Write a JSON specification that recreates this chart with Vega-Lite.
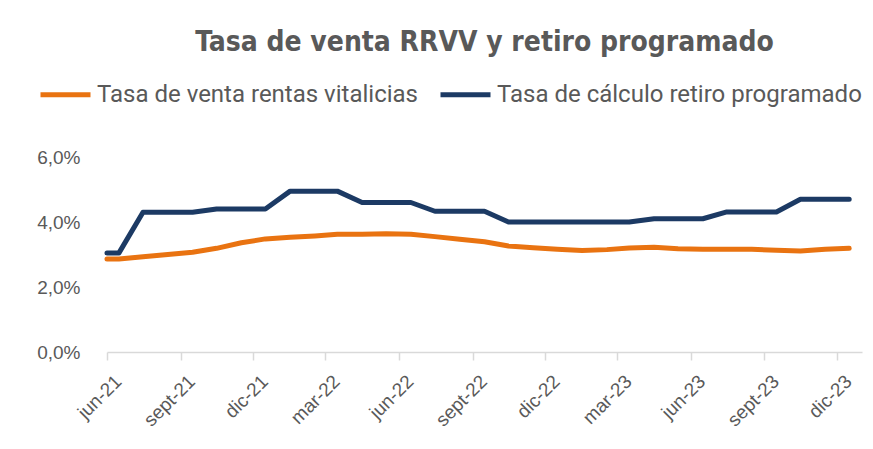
{
  "$schema": "https://vega.github.io/schema/vega-lite/v6.json",
  "width": 755,
  "height": 195,
  "autosize": {"type": "none"},
  "padding": {"left": 107, "top": 157, "right": 11, "bottom": 97},
  "background": "white",
  "title": {
    "text": "Tasa de venta RRVV y retiro programado",
    "font": "'DejaVu Sans Condensed', Roboto, sans-serif",
    "fontSize": 28,
    "fontWeight": "bold",
    "color": "#595959",
    "anchor": "middle",
    "offset": 10
  },
  "data": {
    "values": [
      {"fecha": "2021-06-01", "serie": "Tasa de venta rentas vitalicias", "tasa": 0.0286},
      {"fecha": "2021-06-16", "serie": "Tasa de venta rentas vitalicias", "tasa": 0.0286},
      {"fecha": "2021-07-16", "serie": "Tasa de venta rentas vitalicias", "tasa": 0.0293},
      {"fecha": "2021-08-16", "serie": "Tasa de venta rentas vitalicias", "tasa": 0.0300},
      {"fecha": "2021-09-16", "serie": "Tasa de venta rentas vitalicias", "tasa": 0.0307},
      {"fecha": "2021-10-16", "serie": "Tasa de venta rentas vitalicias", "tasa": 0.0319},
      {"fecha": "2021-11-16", "serie": "Tasa de venta rentas vitalicias", "tasa": 0.0336},
      {"fecha": "2021-12-16", "serie": "Tasa de venta rentas vitalicias", "tasa": 0.0348},
      {"fecha": "2022-01-16", "serie": "Tasa de venta rentas vitalicias", "tasa": 0.0353},
      {"fecha": "2022-02-16", "serie": "Tasa de venta rentas vitalicias", "tasa": 0.0357},
      {"fecha": "2022-03-16", "serie": "Tasa de venta rentas vitalicias", "tasa": 0.0362},
      {"fecha": "2022-04-16", "serie": "Tasa de venta rentas vitalicias", "tasa": 0.0362},
      {"fecha": "2022-05-16", "serie": "Tasa de venta rentas vitalicias", "tasa": 0.0364},
      {"fecha": "2022-06-16", "serie": "Tasa de venta rentas vitalicias", "tasa": 0.0362},
      {"fecha": "2022-07-16", "serie": "Tasa de venta rentas vitalicias", "tasa": 0.0355},
      {"fecha": "2022-08-16", "serie": "Tasa de venta rentas vitalicias", "tasa": 0.0347},
      {"fecha": "2022-09-16", "serie": "Tasa de venta rentas vitalicias", "tasa": 0.0339},
      {"fecha": "2022-10-16", "serie": "Tasa de venta rentas vitalicias", "tasa": 0.0326},
      {"fecha": "2022-11-16", "serie": "Tasa de venta rentas vitalicias", "tasa": 0.0321},
      {"fecha": "2022-12-16", "serie": "Tasa de venta rentas vitalicias", "tasa": 0.0316},
      {"fecha": "2023-01-16", "serie": "Tasa de venta rentas vitalicias", "tasa": 0.0312},
      {"fecha": "2023-02-16", "serie": "Tasa de venta rentas vitalicias", "tasa": 0.0315},
      {"fecha": "2023-03-16", "serie": "Tasa de venta rentas vitalicias", "tasa": 0.0320},
      {"fecha": "2023-04-16", "serie": "Tasa de venta rentas vitalicias", "tasa": 0.0322},
      {"fecha": "2023-05-16", "serie": "Tasa de venta rentas vitalicias", "tasa": 0.0318},
      {"fecha": "2023-06-16", "serie": "Tasa de venta rentas vitalicias", "tasa": 0.0316},
      {"fecha": "2023-07-16", "serie": "Tasa de venta rentas vitalicias", "tasa": 0.0316},
      {"fecha": "2023-08-16", "serie": "Tasa de venta rentas vitalicias", "tasa": 0.0316},
      {"fecha": "2023-09-16", "serie": "Tasa de venta rentas vitalicias", "tasa": 0.0313},
      {"fecha": "2023-10-16", "serie": "Tasa de venta rentas vitalicias", "tasa": 0.0311},
      {"fecha": "2023-11-16", "serie": "Tasa de venta rentas vitalicias", "tasa": 0.0316},
      {"fecha": "2023-12-16", "serie": "Tasa de venta rentas vitalicias", "tasa": 0.0319},
      {"fecha": "2021-06-01", "serie": "Tasa de cálculo retiro programado", "tasa": 0.0305},
      {"fecha": "2021-06-16", "serie": "Tasa de cálculo retiro programado", "tasa": 0.0305},
      {"fecha": "2021-07-16", "serie": "Tasa de cálculo retiro programado", "tasa": 0.0430},
      {"fecha": "2021-08-16", "serie": "Tasa de cálculo retiro programado", "tasa": 0.0430},
      {"fecha": "2021-09-16", "serie": "Tasa de cálculo retiro programado", "tasa": 0.0430},
      {"fecha": "2021-10-16", "serie": "Tasa de cálculo retiro programado", "tasa": 0.0440},
      {"fecha": "2021-11-16", "serie": "Tasa de cálculo retiro programado", "tasa": 0.0440},
      {"fecha": "2021-12-16", "serie": "Tasa de cálculo retiro programado", "tasa": 0.0440},
      {"fecha": "2022-01-16", "serie": "Tasa de cálculo retiro programado", "tasa": 0.0495},
      {"fecha": "2022-02-16", "serie": "Tasa de cálculo retiro programado", "tasa": 0.0495},
      {"fecha": "2022-03-16", "serie": "Tasa de cálculo retiro programado", "tasa": 0.0495},
      {"fecha": "2022-04-16", "serie": "Tasa de cálculo retiro programado", "tasa": 0.0460},
      {"fecha": "2022-05-16", "serie": "Tasa de cálculo retiro programado", "tasa": 0.0460},
      {"fecha": "2022-06-16", "serie": "Tasa de cálculo retiro programado", "tasa": 0.0460},
      {"fecha": "2022-07-16", "serie": "Tasa de cálculo retiro programado", "tasa": 0.0433},
      {"fecha": "2022-08-16", "serie": "Tasa de cálculo retiro programado", "tasa": 0.0433},
      {"fecha": "2022-09-16", "serie": "Tasa de cálculo retiro programado", "tasa": 0.0433},
      {"fecha": "2022-10-16", "serie": "Tasa de cálculo retiro programado", "tasa": 0.0400},
      {"fecha": "2022-11-16", "serie": "Tasa de cálculo retiro programado", "tasa": 0.0400},
      {"fecha": "2022-12-16", "serie": "Tasa de cálculo retiro programado", "tasa": 0.0400},
      {"fecha": "2023-01-16", "serie": "Tasa de cálculo retiro programado", "tasa": 0.0400},
      {"fecha": "2023-02-16", "serie": "Tasa de cálculo retiro programado", "tasa": 0.0400},
      {"fecha": "2023-03-16", "serie": "Tasa de cálculo retiro programado", "tasa": 0.0400},
      {"fecha": "2023-04-16", "serie": "Tasa de cálculo retiro programado", "tasa": 0.0410},
      {"fecha": "2023-05-16", "serie": "Tasa de cálculo retiro programado", "tasa": 0.0410},
      {"fecha": "2023-06-16", "serie": "Tasa de cálculo retiro programado", "tasa": 0.0410},
      {"fecha": "2023-07-16", "serie": "Tasa de cálculo retiro programado", "tasa": 0.0431},
      {"fecha": "2023-08-16", "serie": "Tasa de cálculo retiro programado", "tasa": 0.0431},
      {"fecha": "2023-09-16", "serie": "Tasa de cálculo retiro programado", "tasa": 0.0431},
      {"fecha": "2023-10-16", "serie": "Tasa de cálculo retiro programado", "tasa": 0.0470},
      {"fecha": "2023-11-16", "serie": "Tasa de cálculo retiro programado", "tasa": 0.0470},
      {"fecha": "2023-12-16", "serie": "Tasa de cálculo retiro programado", "tasa": 0.0470}
    ]
  },
  "mark": {"type": "line", "strokeWidth": 5, "strokeCap": "round", "strokeJoin": "round"},
  "encoding": {
    "x": {
      "field": "fecha",
      "type": "temporal",
      "scale": {
        "type": "utc",
        "domain": [
          {"year": 2021, "month": 6, "date": 1, "utc": true},
          {"year": 2024, "month": 1, "date": 1, "utc": true}
        ]
      },
      "axis": {
        "title": null,
        "values": [
          {"year": 2021, "month": 6, "date": 1, "utc": true},
          {"year": 2021, "month": 9, "date": 1, "utc": true},
          {"year": 2021, "month": 12, "date": 1, "utc": true},
          {"year": 2022, "month": 3, "date": 1, "utc": true},
          {"year": 2022, "month": 6, "date": 1, "utc": true},
          {"year": 2022, "month": 9, "date": 1, "utc": true},
          {"year": 2022, "month": 12, "date": 1, "utc": true},
          {"year": 2023, "month": 3, "date": 1, "utc": true},
          {"year": 2023, "month": 6, "date": 1, "utc": true},
          {"year": 2023, "month": 9, "date": 1, "utc": true},
          {"year": 2023, "month": 12, "date": 1, "utc": true}
        ],
        "labelExpr": "['ene','feb','mar','abr','may','jun','jul','ago','sept','oct','nov','dic'][utcmonth(datum.value)] + '-' + utcFormat(datum.value, '%y')",
        "labelAngle": -45,
        "labelAlign": "right",
        "labelBaseline": "middle",
        "labelFont": "Liberation Sans",
        "labelFontSize": 19,
        "labelColor": "#595959",
        "labelPadding": 18,
        "labelOffset": 11,
        "labelFlush": false,
        "labelOverlap": false,
        "domainColor": "#D9D9D9",
        "domainWidth": 1.5,
        "tickColor": "#D9D9D9",
        "tickSize": 8,
        "tickWidth": 1.5,
        "grid": false
      }
    },
    "y": {
      "field": "tasa",
      "type": "quantitative",
      "scale": {"domain": [0, 0.06], "nice": false},
      "axis": {
        "title": null,
        "values": [0, 0.02, 0.04, 0.06],
        "labelExpr": "replace(format(datum.value, '.1%'), '.', ',')",
        "labelFont": "Liberation Sans",
        "labelFontSize": 19,
        "labelColor": "#595959",
        "labelPadding": 27,
        "domain": false,
        "ticks": false,
        "grid": false
      }
    },
    "color": {
      "field": "serie",
      "type": "nominal",
      "scale": {
        "domain": ["Tasa de venta rentas vitalicias", "Tasa de cálculo retiro programado"],
        "range": ["#E97311", "#1C3A64"]
      },
      "legend": {
        "title": null,
        "orient": "none",
        "direction": "horizontal",
        "legendX": -69,
        "legendY": -90,
        "symbolType": "stroke",
        "symbolStrokeWidth": 5,
        "symbolSize": 2500,
        "labelFont": "Roboto",
        "labelFontSize": 24,
        "labelColor": "#595959",
        "labelOffset": 4,
        "columnPadding": 12,
        "labelLimit": 500
      }
    }
  },
  "config": {"view": {"stroke": null}}
}
